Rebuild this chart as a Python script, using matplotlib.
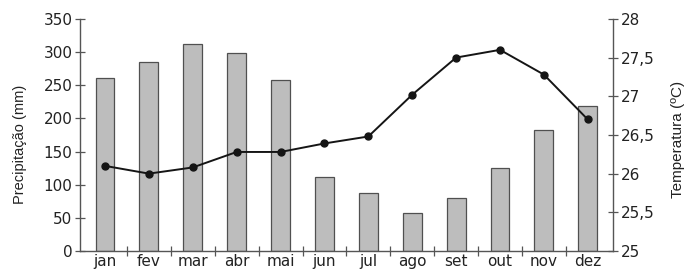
import matplotlib
matplotlib.use("Agg")
import matplotlib.pyplot as plt
import numpy as np

months = ["jan", "fev", "mar", "abr", "mai", "jun", "jul", "ago", "set", "out", "nov", "dez"]
precip = [261, 285, 312, 299, 258, 112, 88, 57, 80, 125, 182, 219]
temp = [26.1, 26.0, 26.08, 26.28, 26.28, 26.39, 26.48, 27.02, 27.5, 27.6, 27.28, 26.7]

plt.rcParams['font.family'] = ['DejaVu Sans']
axc = '#555555'
tc = '#222222'

fig = plt.figure(figsize=(6.91, 2.75), dpi=100)
ax = fig.add_axes([0.1158, 0.0873, 0.771, 0.844])
x = np.arange(len(months))
ax.bar(x, precip, width=0.43, color='#bdbdbd', edgecolor='#505050', linewidth=0.9, zorder=2)
ax.set_xlim(-0.57, 11.57)
ax.set_ylim(0, 350)
ax.set_yticks(range(0, 351, 50))
ax.set_xticks(x)
ax.set_xticklabels(months)
ax.set_xticks(np.arange(0.5, 11, 1), minor=True)
ax.tick_params(axis='x', which='major', length=0, pad=2, labelsize=11, labelcolor=tc)
ax.tick_params(axis='x', which='minor', direction='inout', length=7, color=axc, width=0.9)
ax.tick_params(axis='y', direction='inout', length=7, color=axc, width=0.9, labelsize=11, pad=2, labelcolor=tc)
ax.set_ylabel("Precipitação (mm)", fontsize=10.5, family='Liberation Sans', color=tc)
ax.yaxis.set_label_coords(-0.1, 0.46)
for s in ['top', 'right']:
    ax.spines[s].set_visible(False)
for s in ['left', 'bottom']:
    ax.spines[s].set_color(axc)
    ax.spines[s].set_linewidth(1.0)

ax2 = ax.twinx()
ax2.plot(x, temp, color='#151515', linewidth=1.4, marker='o', markersize=5, zorder=3)
ax2.set_ylim(25, 28)
ax2.set_yticks([25, 25.5, 26, 26.5, 27, 27.5, 28])
ax2.set_yticklabels(["25", "25,5", "26", "26,5", "27", "27,5", "28"])
ax2.tick_params(axis='y', direction='inout', length=7, color=axc, width=0.9, labelsize=11, pad=2, labelcolor=tc)
ax2.set_ylabel("Temperatura (ºC)", fontsize=11, family='Liberation Sans', color=tc)
ax2.yaxis.set_label_coords(1.11, 0.48)
for s in ['top', 'left', 'bottom']:
    ax2.spines[s].set_visible(False)
ax2.spines['right'].set_color(axc)
ax2.spines['right'].set_linewidth(1.0)

fig.savefig("out.png", dpi=100)
